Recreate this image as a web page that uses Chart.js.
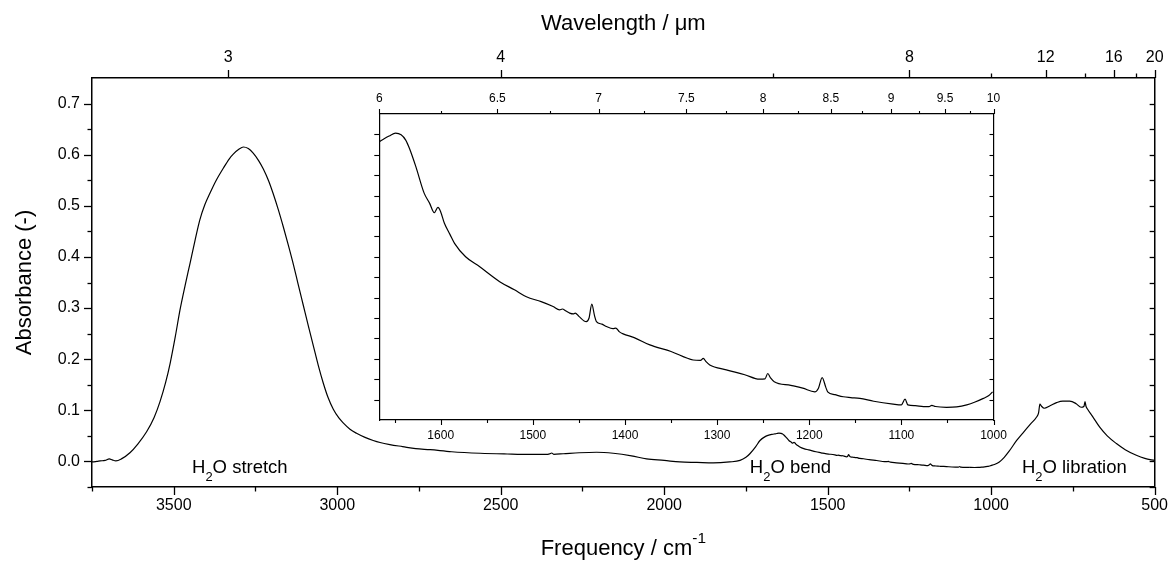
<!DOCTYPE html>
<html><head><meta charset="utf-8">
<script src="https://cdn.jsdelivr.net/npm/chart.js@4"></script>
<style>
html,body{margin:0;padding:0;background:#fff;}
#wrap{position:relative;width:1168px;height:561px;overflow:hidden;}
#main{position:absolute;left:0;top:0;}
#inset{position:absolute;left:340px;top:85px;}
</style></head><body>
<div id="wrap"><canvas id="main" width="1168" height="561"></canvas><canvas id="inset" width="680" height="375"></canvas></div>
<script>
// ---------- DATA ----------
// Main spectrum, O-H stretch to bend region (wavenumber cm-1, absorbance)
const stretchFreq = [3750,3735,3725,3710,3697,3688,3677,3660,3634,3610,3583,3560,3542,3525,3511,3495,3481,3465,3450,3435,3420,3405,3389,3370,3348,3330,3318,3300,3287,3272,3257,3240,3226,3210,3196,3180,3165,3150,3134,3120,3104,3088,3073,3058,3043,3028,3012,2995,2981,2961,2941,2915,2890,2869,2839,2800,2760,2716,2650,2563,2480,2411,2360,2350,2344,2338,2309,2260,2207,2156,2100,2054,2000,1952,1900,1850,1800,1768,1750,1738,1720,1707,1690,1677];
const stretchAbs = [-0.001,0.000,0.001,0.002,0.005,0.003,0.001,0.005,0.017,0.034,0.058,0.086,0.117,0.154,0.192,0.245,0.296,0.345,0.388,0.432,0.473,0.502,0.525,0.550,0.574,0.592,0.601,0.611,0.615,0.612,0.603,0.588,0.572,0.549,0.524,0.492,0.459,0.424,0.385,0.348,0.306,0.264,0.226,0.188,0.154,0.125,0.102,0.085,0.075,0.063,0.055,0.047,0.041,0.037,0.033,0.029,0.025,0.023,0.019,0.016,0.0145,0.0137,0.0137,0.015,0.0165,0.014,0.015,0.017,0.018,0.016,0.011,0.005,0.002,-0.001,-0.002,-0.003,-0.001,0.002,0.008,0.015,0.029,0.041,0.049,0.052];
// Bend region 6-10 um (shown in the inset and in the main plot)
const insetFreq = [1667,1661,1656,1649,1643,1638,1634,1627,1618,1612,1607,1603,1600,1596,1590,1585,1573,1558,1536,1520,1507,1491,1478,1471,1468,1464,1460,1456,1454,1450,1442,1439,1436,1433,1431,1425,1420,1413,1410,1406,1402,1390,1373,1350,1326,1318,1315,1312,1308,1290,1270,1254,1248,1245,1242,1238,1220,1207,1194,1190,1186,1182,1180,1172,1163,1155,1145,1130,1109,1100,1096,1093,1085,1076,1070,1067,1063,1051,1040,1029,1020,1011,1005,1001];
const insetAbs = [0.0532,0.0540,0.0546,0.0553,0.0549,0.0536,0.0516,0.0471,0.0406,0.0381,0.0358,0.0371,0.0360,0.0332,0.0305,0.0283,0.0250,0.0226,0.0189,0.0169,0.0152,0.0140,0.0128,0.0120,0.0122,0.0117,0.0112,0.0110,0.0112,0.0104,0.0091,0.0100,0.0134,0.0105,0.0091,0.0085,0.0079,0.0074,0.0075,0.0066,0.0061,0.0052,0.0034,0.0018,-0.0003,-0.0004,0.0001,-0.0007,-0.0015,-0.0027,-0.0039,-0.0050,-0.0049,-0.0036,-0.0047,-0.0056,-0.0065,-0.0072,-0.0081,-0.0072,-0.0046,-0.0070,-0.0081,-0.0088,-0.0093,-0.0095,-0.0097,-0.0104,-0.0111,-0.0113,-0.0099,-0.0113,-0.0115,-0.0117,-0.0117,-0.0114,-0.0117,-0.0119,-0.0118,-0.0113,-0.0106,-0.0097,-0.0090,-0.0081];
// Libration region
const librFreq = [990,975,960,945,922,900,880,861,855,851,846,838,820,800,781,760,740,725,716,713,710,705,690,668,645,617,590,556,530,500];
const librAbs = [-0.006,-0.001,0.008,0.020,0.041,0.058,0.073,0.087,0.095,0.112,0.108,0.104,0.109,0.115,0.118,0.118,0.113,0.106,0.108,0.117,0.108,0.102,0.088,0.067,0.050,0.035,0.023,0.012,0.006,0.002];

// Tick labels
const bottomTicks = [3500,3000,2500,2000,1500,1000,500];
const bottomMinor = [3750,3250,2750,2250,1750,1250,750];
const topWavelengthTicks = [3,4,8,12,16,20];
const topWavelengthMinor = [6,10,14,18];
const yTicks = [0,0.1,0.2,0.3,0.4,0.5,0.6,0.7];
const yMinor = [-0.05,0.05,0.15,0.25,0.35,0.45,0.55,0.65];
const insetBottomTicks = [1600,1500,1400,1300,1200,1100,1000];
const insetBottomMinor = [1650,1550,1450,1350,1250,1150,1050];
const insetTopTicks = [6,6.5,7,7.5,8,8.5,9,9.5,10];
const insetTopMinor = [6.25,6.75,7.25,7.75,8.25,8.75,9.25,9.75];
const insetYTicks = [-0.01,-0.005,0,0.005,0.01,0.015,0.02,0.025,0.03,0.035,0.04,0.045,0.05,0.055];

// ---------- CHART ----------
const FONT = "'Liberation Sans', Arial, Helvetica, sans-serif";
Chart.defaults.font.family = FONT;
Chart.defaults.color = '#000';

const toPts = (f, a) => f.map((v, i) => ({x: v, y: a[i]}));
const mainPts = toPts(stretchFreq, stretchAbs).concat(toPts(insetFreq, insetAbs), toPts(librFreq, librAbs));
const insetPts = toPts(insetFreq, insetAbs);

function vTick(ctx, x, y1, y2) { const xx = Math.round(x) + 0.5; ctx.beginPath(); ctx.moveTo(xx, y1); ctx.lineTo(xx, y2); ctx.stroke(); }
function hTick(ctx, y, x1, x2) { const yy = Math.round(y) + 0.5; ctx.beginPath(); ctx.moveTo(x1, yy); ctx.lineTo(x2, yy); ctx.stroke(); }

function drawRich(ctx, x, y, parts, size) {
  let cx = x;
  parts.forEach(p => {
    const s = p.mode ? size * 0.7 : size;
    ctx.font = s + 'px ' + FONT;
    const dy = p.mode === 'sub' ? size * 0.42 : (p.mode === 'sup' ? -size * 0.55 : 0);
    ctx.fillText(p.t, cx, y + dy);
    cx += ctx.measureText(p.t).width;
  });
}
function richWidth(ctx, parts, size) {
  let w = 0;
  parts.forEach(p => { ctx.font = (p.mode ? size * 0.7 : size) + 'px ' + FONT; w += ctx.measureText(p.t).width; });
  return w;
}

const mainDecor = {
  id: 'mainDecor',
  afterDraw(chart) {
    const {ctx, chartArea: a, scales: s} = chart;
    ctx.save();
    ctx.strokeStyle = '#000'; ctx.lineWidth = 1.3;
    bottomTicks.forEach(v => vTick(ctx, s.x.getPixelForValue(v), a.bottom, a.bottom + 8));
    bottomMinor.forEach(v => vTick(ctx, s.x.getPixelForValue(v), a.bottom, a.bottom + 4.5));
    topWavelengthTicks.forEach(w => vTick(ctx, s.xTop.getPixelForValue(1e4 / w), a.top, a.top - 8));
    topWavelengthMinor.forEach(w => vTick(ctx, s.xTop.getPixelForValue(1e4 / w), a.top, a.top - 4.5));
    yTicks.forEach(v => hTick(ctx, s.y.getPixelForValue(v), a.left - 8, a.left));
    yMinor.forEach(v => hTick(ctx, s.y.getPixelForValue(v), a.left - 4.5, a.left));
    yTicks.concat(yMinor).forEach(v => hTick(ctx, s.y.getPixelForValue(v), a.right - 5, a.right));
    // annotations
    ctx.fillStyle = '#000'; ctx.textBaseline = 'alphabetic'; ctx.textAlign = 'left';
    const by = s.y.getPixelForValue(-0.0225);
    drawRich(ctx, s.x.getPixelForValue(3444), by, [{t:'H'},{t:'2',mode:'sub'},{t:'O stretch'}], 18.5);
    drawRich(ctx, s.x.getPixelForValue(1738), by, [{t:'H'},{t:'2',mode:'sub'},{t:'O bend'}], 18.5);
    drawRich(ctx, s.x.getPixelForValue(906), by, [{t:'H'},{t:'2',mode:'sub'},{t:'O libration'}], 18.5);
    // bottom axis title
    const tp = [{t:'Frequency / cm'},{t:'-1',mode:'sup'}];
    const tw = richWidth(ctx, tp, 22);
    drawRich(ctx, (a.left + a.right) / 2 - tw / 2, 555, tp, 22);
    ctx.restore();
  }
};

// tick marks are drawn by the plugins; the library's own tick length only sets the label offset
const axisBase = (len) => ({
  grid: {display: true, drawOnChartArea: false, drawTicks: true, tickLength: len, tickColor: 'rgba(0,0,0,0)'},
  border: {display: true, color: '#000', width: 1.5},
});

new Chart(document.getElementById('main'), {
  type: 'line',
  data: {datasets: [{data: mainPts, borderColor: '#000', borderWidth: 1.2, pointRadius: 0, cubicInterpolationMode: 'monotone', xAxisID: 'x', yAxisID: 'y'}]},
  options: {
    responsive: false, animation: false, events: [],
    layout: {padding: 0},
    plugins: {legend: {display: false}, tooltip: {enabled: false}},
    scales: {
      x: {...axisBase(9), type: 'linear', position: 'bottom', min: 500, max: 3750, reverse: true,
        afterBuildTicks: sc => { sc.ticks = bottomTicks.map(v => ({value: v})); },
        ticks: {autoSkip: false, maxRotation: 0, padding: 0, font: {size: 16}, callback: v => String(v)},
        afterFit: sc => { sc.height = 74; }},
      xTop: {...axisBase(11), type: 'linear', position: 'top', min: 500, max: 3750, reverse: true,
        afterBuildTicks: sc => { sc.ticks = topWavelengthTicks.map(w => ({value: 1e4 / w})); },
        ticks: {autoSkip: false, maxRotation: 0, padding: 0, font: {size: 16}, callback: v => String(Math.round(1e4 / v))},
        title: {display: true, text: 'Wavelength / \u03bcm', font: {size: 22}, padding: {top: 11, bottom: 0}},
        afterFit: sc => { sc.height = 78; }},
      y: {...axisBase(12), type: 'linear', position: 'left', min: -0.05, max: 0.75,
        afterBuildTicks: sc => { sc.ticks = yTicks.map(v => ({value: v})); },
        ticks: {padding: 0, font: {size: 16}, callback: v => v.toFixed(1)},
        title: {display: true, text: 'Absorbance (-)', font: {size: 22}, padding: {top: 12, bottom: 0}},
        afterFit: sc => { sc.width = 92; }},
      yRight: {...axisBase(0), type: 'linear', position: 'right', min: -0.05, max: 0.75,
        ticks: {display: false, padding: 0},
        afterFit: sc => { sc.width = 13; }}
    }
  },
  plugins: [mainDecor]
});

const insetDecor = {
  id: 'insetDecor',
  afterDraw(chart) {
    const {ctx, chartArea: a, scales: s} = chart;
    ctx.save();
    ctx.strokeStyle = '#000'; ctx.lineWidth = 1.1;
    insetBottomTicks.forEach(v => vTick(ctx, s.x.getPixelForValue(v), a.bottom, a.bottom + 5));
    insetBottomMinor.forEach(v => vTick(ctx, s.x.getPixelForValue(v), a.bottom, a.bottom + 3));
    insetTopTicks.forEach(w => vTick(ctx, s.xTop.getPixelForValue(1e4 / w), a.top, a.top - 5));
    insetTopMinor.forEach(w => vTick(ctx, s.xTop.getPixelForValue(1e4 / w), a.top, a.top - 3));
    insetYTicks.forEach(v => hTick(ctx, s.y.getPixelForValue(v), a.left - 5, a.left));
    insetYTicks.forEach(v => hTick(ctx, s.y.getPixelForValue(v), a.right - 4, a.right));
    ctx.restore();
  }
};

const insetAxis = (len) => ({
  grid: {display: true, drawOnChartArea: false, drawTicks: true, tickLength: len, tickColor: 'rgba(0,0,0,0)'},
  border: {display: true, color: '#000', width: 1.2},
});

new Chart(document.getElementById('inset'), {
  type: 'line',
  data: {datasets: [{data: insetPts, borderColor: '#000', borderWidth: 1.2, pointRadius: 0, cubicInterpolationMode: 'monotone', xAxisID: 'x', yAxisID: 'y'}]},
  options: {
    responsive: false, animation: false, events: [],
    layout: {padding: 0},
    plugins: {legend: {display: false}, tooltip: {enabled: false}},
    scales: {
      x: {...insetAxis(8), type: 'linear', position: 'bottom', min: 1000, max: 1e4 / 6, reverse: true,
        afterBuildTicks: sc => { sc.ticks = insetBottomTicks.map(v => ({value: v})); },
        ticks: {autoSkip: false, maxRotation: 0, padding: 0, font: {size: 12}, callback: v => String(v)},
        afterFit: sc => { sc.height = 40; }},
      xTop: {...insetAxis(8), type: 'linear', position: 'top', min: 1000, max: 1e4 / 6, reverse: true,
        afterBuildTicks: sc => { sc.ticks = insetTopTicks.map(w => ({value: 1e4 / w})); },
        ticks: {autoSkip: false, maxRotation: 0, padding: 0, font: {size: 12}, callback: v => String(Math.round(1e4 / v * 100) / 100)},
        afterFit: sc => { sc.height = 29; }},
      y: {...insetAxis(0), type: 'linear', position: 'left', min: -0.015, max: 0.06,
        ticks: {display: false, padding: 0},
        afterFit: sc => { sc.width = 39.3; }},
      yRight: {...insetAxis(0), type: 'linear', position: 'right', min: -0.015, max: 0.06,
        ticks: {display: false, padding: 0},
        afterFit: sc => { sc.width = 26.5; }}
    }
  },
  plugins: [insetDecor]
});
</script>
</body></html>
